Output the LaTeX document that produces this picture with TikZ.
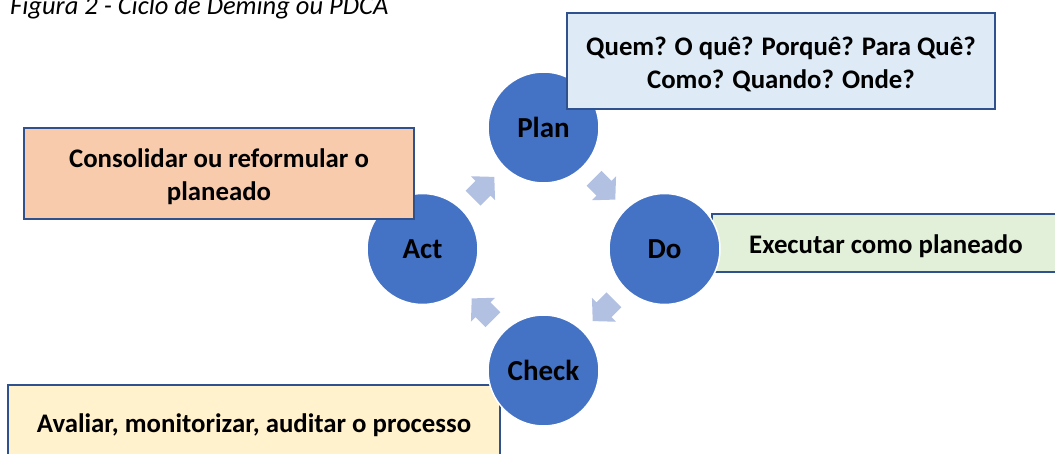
\documentclass[tikz,border=0pt]{standalone}
\usepackage{fontspec}
\setmainfont{Carlito}
\definecolor{circblue}{HTML}{4472C4}
\definecolor{arrowblue}{HTML}{B2C0E2}
\definecolor{boxborder}{HTML}{2F528F}
\definecolor{planfill}{HTML}{DEEBF7}
\definecolor{actfill}{HTML}{F8CBAD}
\definecolor{dofill}{HTML}{E2F0D9}
\definecolor{checkfill}{HTML}{FFF2CC}
\tikzset{
  txt/.style={font=\fontsize{26.8}{33}\selectfont\bfseries},
  phase/.style={circle, fill=circblue, draw=white, line width=1.5pt, minimum size=111pt, inner sep=0pt, font=\fontsize{29}{34}\selectfont\bfseries},
  note/.style={rectangle, draw=boxborder, line width=2.2pt, inner sep=0pt},
  notetext/.style={txt, align=center, inner sep=0pt, yshift=-3pt},
  cyclearrow/.pic={\fill[arrowblue] (-14,-10.5) -- (0,-10.5) -- (0,-17) -- (16,0) -- (0,17) -- (0,10.5) -- (-14,10.5) -- cycle;}
}
\begin{document}
\begin{tikzpicture}[x=1pt,y=-1pt]
\useasboundingbox (0,0) rectangle (1055,454);
\clip (0,0) rectangle (1055,454);
% title
\node[anchor=base west, inner sep=0pt, font=\fontsize{26.5}{32}\selectfont\itshape] (title) at (10,15) {Figura 2 - Ciclo de Deming ou PDCA};
% circles behind boxes
\node[phase] (act) at (422.5,249) {Act};
\node[phase] (plan) at (543.5,127.5) {Plan};
% boxes
\node[note, fill=planfill, minimum width=428pt, minimum height=96pt,
  label={[notetext]center:Quem? O quê? Porquê? Para Quê?\\Como? Quando? Onde?}] (planbox) at (781,61) {};
\node[note, fill=actfill, minimum width=390pt, minimum height=91pt,
  label={[notetext]center:Consolidar ou reformular o\\planeado}] (actbox) at (219,173.5) {};
\node[note, fill=dofill, minimum width=348pt, minimum height=58pt,
  label={[notetext]center:Executar como planeado}] (dobox) at (886,243) {};
\node[note, fill=checkfill, minimum width=492pt, minimum height=76pt,
  label={[notetext, yshift=1pt]center:Avaliar, monitorizar, auditar o processo}] (checkbox) at (254,423) {};
% circles in front of boxes
\node[phase] (do) at (664.5,249) {Do};
\node[phase] (check) at (543.5,370.5) {Check};
% cycle arrows
\path (plan) -- (do) pic[midway, sloped, allow upside down] {cyclearrow};
\path (do) -- (check) pic[midway, sloped, allow upside down] {cyclearrow};
\path (check) -- (act) pic[midway, sloped, allow upside down] {cyclearrow};
\path (act) -- (plan) pic[midway, sloped, allow upside down] {cyclearrow};
\end{tikzpicture}
\end{document}
